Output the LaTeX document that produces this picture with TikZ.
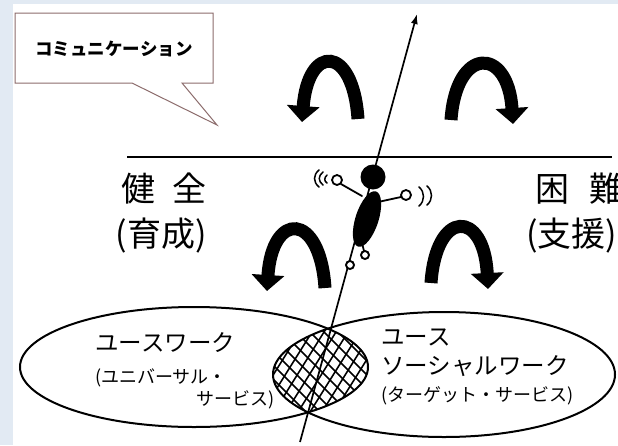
\documentclass[tikz,border=0pt]{standalone}
\usepackage{fontspec}
\newfontfamily\jp{Noto Sans CJK JP}
\usetikzlibrary{arrows.meta}
\definecolor{bgblue}{RGB}{226,234,243}
\definecolor{bubbleline}{RGB}{140,108,108}
\tikzset{
  arch/.style={line width=13pt,-{Triangle[length=16pt,width=32pt]}},
  limb/.style={line width=1.8pt,line cap=round},
  wave/.style={line width=1.5pt,line cap=round},
  hatch/.style={line width=1.6pt},
  oval/.style={line width=2pt},
  big/.style={font=\jp\fontsize{34}{36}\selectfont,inner sep=0pt},
  label/.style={font=\jp\fontsize{23.5}{26}\selectfont,inner sep=0pt,anchor=west},
  small/.style={font=\jp\fontsize{18}{20}\selectfont,inner sep=0pt},
}
\begin{document}
\begin{tikzpicture}[x=1pt,y=-1pt]
\useasboundingbox (0,0) rectangle (618,445);
\clip (0,0) rectangle (618,445);
% page background
\fill[bgblue] (0,0) rectangle (618,445);
\fill[white] (13,4) rectangle (618,445);

% speech bubble
\draw[bubbleline,line width=1pt,fill=white]
  (15,13) -- (213,13) -- (213,83) -- (182,83) -- (217,125) -- (132,83) -- (15,83) -- cycle;
\node[font=\jp\bfseries\fontsize{17.5}{19}\selectfont,inner sep=0pt] (comm) at (114,49) {コミュニケーション};

% boundary line
\coordinate (hl) at (127,157);
\coordinate (hr) at (612,157);
\draw[line width=2pt] (hl) -- (hr);

% arching arrows above the line
\draw[arch] (358,119) .. controls (353,44) and (308,44) .. (302,122);
\draw[arch] (451,120) .. controls (456,46) and (508,46) .. (513,124);
% arching arrows below the line
\draw[arch] (325,288) .. controls (320,211) and (272,211) .. (267,291);
\draw[arch] (431,283) .. controls (436,209) and (484,209) .. (488,289);

% two overlapping fields
\coordinate (lc) at (194,367);
\coordinate (rc) at (444,374.5);
\begin{scope}
  \clip (lc) ellipse [x radius=174, y radius=60];
  \clip (rc) ellipse [x radius=171, y radius=62.5];
  \foreach \k in {-14,...,14} {
    \draw[hatch] (320+\k*14,300) -- ++(150,150);
    \draw[hatch] (320+\k*12,300) -- ++(-75,120);
  }
\end{scope}
\draw[oval] (lc) ellipse [x radius=174, y radius=60];
\draw[oval] (rc) ellipse [x radius=171, y radius=62.5];

% rising axis
\coordinate (bot) at (300,442);
\coordinate (top) at (417,14);
\draw[line width=1.7pt,-{Latex[length=10pt,width=7pt]}] (bot) -- (top);

% walking figure on the axis
\fill (373,177) circle (12.5);
\fill[rotate around={-18:(367,219)}] (367,219) ellipse [x radius=11.5, y radius=29];
\draw[limb] (362,196) -- (341,184);
\draw[limb,fill=white] (337,180) circle (5);
\draw[limb] (378,202) -- (401,197);
\draw[limb,fill=white] (406,195) circle (5);
\draw[limb] (362,243) -- (364,251);
\draw[line width=1.9pt,fill=white] (365,255) circle (4);
\draw[line width=1.9pt,fill=white] (350,265) circle (4);
% waving marks
\draw[wave] (319,170) .. controls (313,175) and (313,182) .. (319,187);
\draw[wave] (323,172) .. controls (318,176) and (318,181) .. (323,185);
\draw[wave] (327,175) .. controls (324,178) and (324,181) .. (327,183);
\draw[wave] (419,187) .. controls (425,192) and (425,201) .. (419,206);
\draw[wave] (427,186) .. controls (433,191) and (433,200) .. (427,205);

% side labels
\node[big] (kenzen) at (164,189) {健\hspace{17pt}全};
\node[big] (ikusei) at (161,236) {(育成)};
\node[big,anchor=west] (konnan) at (535,189) {困\hspace{20pt}難};
\node[big,anchor=west] (shien) at (526,236) {(支援)};

% field labels
\node[label] (yw) at (95,343) {ユースワーク};
\node[small,anchor=west] (yw2) at (95,378) {(ユニバーサル・};
\node[small,anchor=east] (yw3) at (275,400) {サービス)};
\node[label] (ysw1) at (381,337) {ユース};
\node[label] (ysw2) at (381,366) {ソーシャルワーク};
\node[small,anchor=west] (ysw3) at (381,396) {(ターゲット・サービス)};
\end{tikzpicture}
\end{document}
